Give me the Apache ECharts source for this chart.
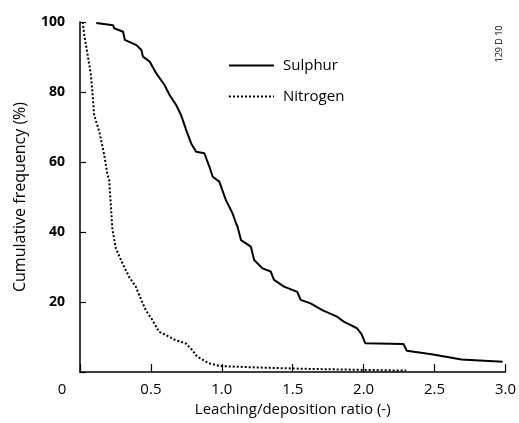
<!DOCTYPE html>
<html><head><meta charset="utf-8">
<script src="https://cdn.jsdelivr.net/npm/echarts@6/dist/echarts.min.js"></script>
<style>html,body{margin:0;padding:0;background:#fff}#c{width:519px;height:423px}</style>
</head><body><div id="c"></div>
<script>
const xTicks = [0, 0.5, 1.0, 1.5, 2.0, 2.5, 3.0];
const yTicks = [0, 20, 40, 60, 80, 100];
const seriesNames = ['Sulphur', 'Nitrogen'];
const sulphur = [
  [0.115, 99.7], [0.234, 99.1], [0.24, 98.2], [0.304, 97.2], [0.316, 94.9], [0.398, 93.4],
  [0.433, 92.0], [0.444, 90.1], [0.491, 88.7], [0.538, 85.3], [0.596, 82.0], [0.632, 79.1],
  [0.678, 76.3], [0.713, 73.4], [0.749, 69.1], [0.784, 65.3], [0.819, 62.9], [0.877, 62.5],
  [0.912, 58.7], [0.936, 55.8], [0.982, 54.4], [1.029, 49.1], [1.076, 45.3], [1.1, 42.5],
  [1.111, 41.5], [1.135, 37.7], [1.205, 35.8], [1.228, 32.0], [1.287, 29.6], [1.345, 28.7],
  [1.368, 26.3], [1.439, 24.4], [1.532, 22.9], [1.556, 20.6], [1.626, 19.6], [1.708, 17.7],
  [1.813, 15.8], [1.86, 14.4], [1.953, 12.5], [1.985, 10.8], [2.012, 8.2], [2.281, 8.0],
  [2.304, 6.1], [2.479, 5.1], [2.69, 3.6], [2.98, 2.9]
];
const nitrogen = [
  [0.019, 100], [0.03, 96.3], [0.054, 90.6], [0.077, 84.9], [0.089, 79.1], [0.1, 73.4],
  [0.136, 68.7], [0.171, 62.0], [0.194, 56.3], [0.206, 54.9], [0.218, 47.2], [0.229, 40.6],
  [0.253, 35.3], [0.3, 31.0], [0.346, 27.2], [0.393, 24.4], [0.428, 21.0], [0.463, 17.7],
  [0.51, 14.9], [0.557, 11.5], [0.604, 10.6], [0.674, 9.1], [0.744, 8.2], [0.791, 6.3],
  [0.826, 4.4], [0.907, 2.5], [0.99, 1.7], [1.235, 1.3], [1.6, 0.9], [2.0, 0.6], [2.3, 0.4]
];
const xTitle = 'Leaching/deposition ratio (-)';
const yTitle = 'Cumulative frequency (%)';
const figId = '129 D 10';

const FONT = '"Open Sans", sans-serif';
const chart = echarts.init(document.getElementById('c'), null, {renderer: 'canvas'});
chart.setOption({
  animation: false,
  backgroundColor: '#fff',
  grid: {left: 80, right: 11.5, top: 22, bottom: 51, containLabel: false},
  xAxis: {
    type: 'value', min: xTicks[0], max: xTicks[xTicks.length - 1], interval: 0.5,
    name: xTitle, nameLocation: 'middle', nameGap: 30,
    nameTextStyle: {fontFamily: FONT, fontSize: 15, color: '#000'},
    axisLine: {lineStyle: {color: '#000', width: 1.5}},
    axisTick: {inside: true, length: 8, lineStyle: {color: '#000', width: 1.2}},
    axisLabel: {
      margin: 10, fontFamily: FONT, fontSize: 15, color: '#000',
      formatter: v => v === 0 ? '{z|0}' : v.toFixed(1),
      rich: {z: {fontFamily: FONT, fontSize: 15, color: '#000', padding: [0, 36, 0, 0]}}
    },
    splitLine: {show: false}
  },
  yAxis: {
    type: 'value', min: yTicks[0], max: yTicks[yTicks.length - 1], interval: 20,
    name: yTitle, nameLocation: 'middle', nameGap: 52,
    nameTextStyle: {fontFamily: FONT, fontSize: 16, color: '#000'},
    axisLine: {show: true, lineStyle: {color: '#000', width: 1.5}},
    axisTick: {show: true, inside: true, length: 6, lineStyle: {color: '#000', width: 1.2}},
    axisLabel: {
      margin: 15, fontFamily: FONT, fontSize: 14, fontWeight: 'bold', color: '#000',
      formatter: v => v === 0 ? '' : String(v)
    },
    splitLine: {show: false}
  },
  legend: {
    orient: 'vertical', left: 223, top: 53, itemWidth: 45, itemHeight: 14, itemGap: 16,
    itemStyle: {color: 'transparent', borderColor: 'transparent', borderWidth: 0, opacity: 0},
    textStyle: {fontFamily: FONT, fontSize: 15, color: '#000', padding: [0, 0, 0, 4]},
    data: seriesNames
  },
  series: [
    {name: seriesNames[0], type: 'line', data: sulphur, symbol: 'none', showSymbol: false,
     lineStyle: {color: '#000', width: 2}, itemStyle: {color: '#000'}},
    {name: seriesNames[1], type: 'line', data: nitrogen, symbol: 'none', showSymbol: false,
     lineStyle: {color: '#000', width: 2, type: [2, 2]}, itemStyle: {color: '#000'}}
  ],
  graphic: [{
    type: 'text', x: 499, y: 44, rotation: Math.PI / 2,
    style: {text: figId, fontFamily: FONT, fontSize: 9, fill: '#000', align: 'center', verticalAlign: 'middle'}
  }]
});
</script></body></html>
